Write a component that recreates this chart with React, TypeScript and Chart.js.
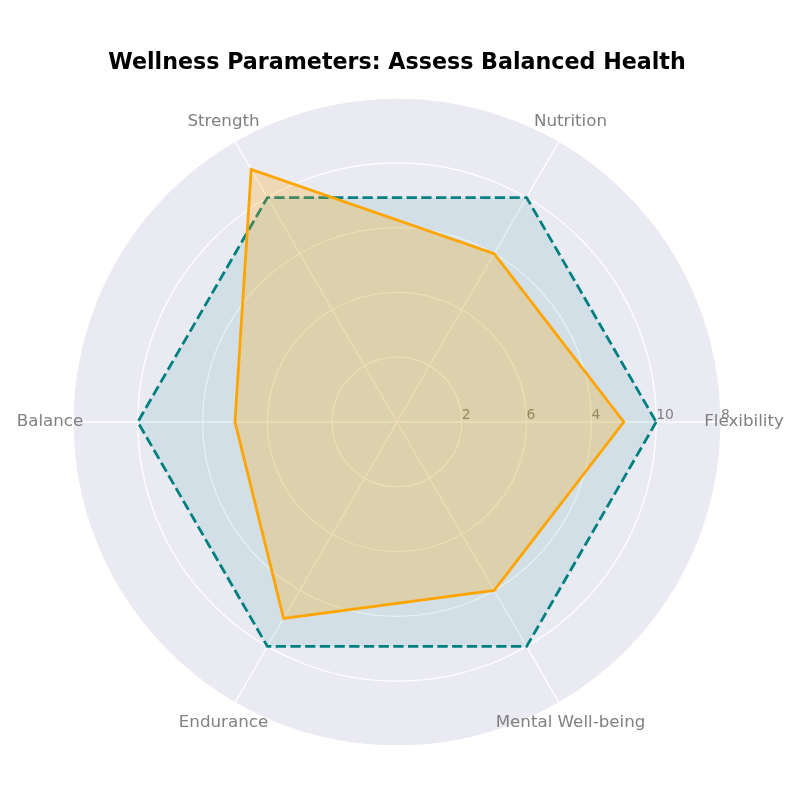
import React, { useEffect, useRef } from "react";
import { Chart, registerables } from "chart.js";

Chart.register(...registerables);

// Categories in the reference's counter-clockwise order (starting at the right)
const categories = ["Flexibility", "Nutrition", "Strength", "Balance", "Endurance", "Mental Well-being"];
const currentValues = [7, 6, 9, 5, 7, 6];
const targetValues = [8, 8, 8, 8, 8, 8];
const tickValues = [2, 4, 6, 8, 10];
const tickLabels = ["2", "6", "4", "10", "8"];
const titleText = "Wellness Parameters: Assess Balanced Health";

// Chart.js goes clockwise; reorder so the layout is counter-clockwise like the reference
const order = [0, 5, 4, 3, 2, 1];
const cwLabels = order.map((i) => categories[i]);
const cwCurrent = order.map((i) => currentValues[i]);
const cwTarget = order.map((i) => targetValues[i]);

const FONT = "'DejaVu Sans', sans-serif";

const decorPlugin = {
  id: "decor",
  beforeDraw(chart: any) {
    const s = chart.scales.r;
    const ctx = chart.ctx;
    ctx.save();
    ctx.fillStyle = "#EAEAF2";
    ctx.beginPath();
    ctx.arc(s.xCenter, s.yCenter, s.drawingArea, 0, Math.PI * 2);
    ctx.fill();
    ctx.restore();
  },
  beforeDatasetsDraw(chart: any) {
    const s = chart.scales.r;
    const ctx = chart.ctx;
    ctx.save();
    // point labels
    ctx.font = `16.7px ${FONT}`;
    ctx.fillStyle = "#808080";
    ctx.textAlign = "center";
    ctx.textBaseline = "middle";
    cwLabels.forEach((lab, i) => {
      const p = s.getPointPosition(i, s.drawingArea + 23);
      ctx.fillText(lab, p.x, p.y);
    });
    // tick labels along the right horizontal axis
    ctx.font = `13.9px ${FONT}`;
    ctx.fillStyle = "#808080";
    ctx.textAlign = "left";
    ctx.textBaseline = "alphabetic";
    tickValues.forEach((v, i) => {
      const d = s.getDistanceFromCenterForValue(v);
      ctx.fillText(tickLabels[i], s.xCenter + d, s.yCenter - 3);
    });
    ctx.restore();
  },
  afterDraw(chart: any) {
    const ctx = chart.ctx;
    ctx.save();
    ctx.font = `bold 22.2px ${FONT}`;
    ctx.fillStyle = "#000000";
    ctx.textAlign = "center";
    ctx.textBaseline = "alphabetic";
    ctx.fillText(titleText, 397, 69);
    ctx.restore();
  },
};

export default function App() {
  const ref = useRef<HTMLCanvasElement | null>(null);
  useEffect(() => {
    document.body.style.margin = "0";
    if (!ref.current) return;
    const chart = new Chart(ref.current, {
      type: "radar",
      data: {
        labels: cwLabels,
        datasets: [
          {
            label: "Current",
            data: cwCurrent,
            borderColor: "#FFA500",
            backgroundColor: "rgba(255,165,0,0.25)",
            borderWidth: 2.8,
            pointRadius: 0,
            fill: true,
            tension: 0,
          },
          {
            label: "Target",
            data: cwTarget,
            borderColor: "#008080",
            backgroundColor: "rgba(0,128,128,0.1)",
            borderWidth: 2.8,
            borderDash: [10.3, 4.4],
            pointRadius: 0,
            fill: true,
            tension: 0,
          },
        ],
      },
      options: {
        responsive: false,
        animation: false,
        elements: { line: { borderWidth: 2.8 } },
        layout: { padding: { left: 73, top: 98, right: 79, bottom: 53 } },
        plugins: {
          legend: { display: false },
          title: { display: false },
          tooltip: { enabled: false },
        },
        scales: {
          r: {
            min: 0,
            max: 10,
            startAngle: 90,
            ticks: { display: false, stepSize: 2 },
            pointLabels: { display: false },
            grid: { circular: true, color: "#FFFFFF", lineWidth: 1.3 },
            angleLines: { color: "#FFFFFF", lineWidth: 1.3 },
          },
        },
      },
      plugins: [decorPlugin],
    });
    return () => chart.destroy();
  }, []);
  return <canvas ref={ref} width={800} height={800} style={{ display: "block" }} />;
}
